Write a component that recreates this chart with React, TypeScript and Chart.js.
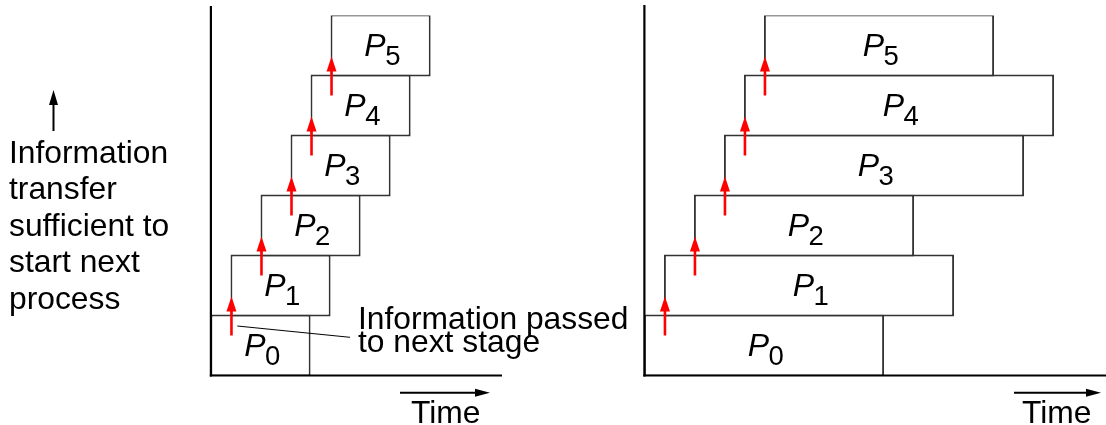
import React, { useEffect, useRef } from 'react';
import { Chart, registerables } from 'chart.js';

Chart.register(...registerables);

// ---- data ----
const processLabels = ['P0', 'P1', 'P2', 'P3', 'P4', 'P5'];
const startTimes = [0, 2, 5, 8, 10, 12];
const leftEndTimes = [10, 12, 15, 18, 20, 22];
const rightEndTimes = [24, 31, 27, 38, 41, 35];
const leftTimeMax = 29.13;
const rightTimeMax = 46.2;
const leftNote = ['Information', 'transfer', 'sufficient to', 'start next', 'process'];
const passedNote = ['Information passed', 'to next stage'];
const timeLabel = 'Time';

const FONT = "'Liberation Sans', Arial, Helvetica, sans-serif";
const TEXT_SIZE = 31.8;
const BOX_BORDER = 1.9;

function drawArrow(
  ctx: CanvasRenderingContext2D,
  x1: number, y1: number, x2: number, y2: number,
  color: string, width: number, headLen: number, headHalf: number
) {
  const ang = Math.atan2(y2 - y1, x2 - x1);
  const bx = x2 - headLen * Math.cos(ang);
  const by = y2 - headLen * Math.sin(ang);
  ctx.save();
  ctx.strokeStyle = color;
  ctx.fillStyle = color;
  ctx.lineWidth = width;
  ctx.lineCap = 'butt';
  ctx.beginPath();
  ctx.moveTo(x1, y1);
  ctx.lineTo(bx + Math.cos(ang), by + Math.sin(ang));
  ctx.stroke();
  ctx.beginPath();
  ctx.moveTo(x2, y2);
  ctx.lineTo(bx + headHalf * Math.sin(ang), by - headHalf * Math.cos(ang));
  ctx.lineTo(bx - headHalf * Math.sin(ang), by + headHalf * Math.cos(ang));
  ctx.closePath();
  ctx.fill();
  ctx.restore();
}

interface PanelOpts {
  axisTopExtra: number;
  timeArrow: [number, number, number];
  timeText: [number, number];
  annotate?: (ctx: CanvasRenderingContext2D) => void;
}

function makePanelPlugin(o: PanelOpts) {
  return {
    id: 'panelDecor',
    afterDatasetsDraw(chart: any) {
      const { ctx, chartArea: a, scales } = chart;
      const x = scales.x;
      const y = scales.y;
      // axes
      ctx.save();
      ctx.strokeStyle = '#000';
      ctx.lineWidth = 2.2;
      const x0 = x.getPixelForValue(0) + 0.4;
      ctx.beginPath();
      ctx.moveTo(x0, a.top - o.axisTopExtra);
      ctx.lineTo(x0, a.bottom + 1.1);
      ctx.stroke();
      ctx.beginPath();
      ctx.moveTo(x0 - 1.1, a.bottom);
      ctx.lineTo(a.right, a.bottom);
      ctx.stroke();
      ctx.restore();

      // labels inside boxes
      const meta = chart.getDatasetMeta(0);
      meta.data.forEach((el: any, i: number) => {
        const lab = processLabels[i];
        const main = lab.slice(0, 1);
        const sub = lab.slice(1);
        const cx = (el.x + el.base) / 2 + 2;
        const cy = el.y;
        ctx.save();
        ctx.fillStyle = '#000';
        ctx.textBaseline = 'alphabetic';
        ctx.textAlign = 'left';
        ctx.font = `italic 32px ${FONT}`;
        const wP = ctx.measureText(main).width;
        ctx.font = `27.5px ${FONT}`;
        const wD = ctx.measureText(sub).width;
        const sx = cx - (wP + wD) / 2;
        ctx.font = `italic 32px ${FONT}`;
        ctx.fillText(main, sx, cy + 10.5);
        ctx.font = `27.5px ${FONT}`;
        ctx.fillText(sub, sx + wP - 0.5, cy + 19);
        ctx.restore();
      });

      // red transfer arrows
      for (let k = 1; k < processLabels.length; k++) {
        const px = x.getPixelForValue(startTimes[k]) + BOX_BORDER / 2;
        const yPrev = y.getPixelForValue(k - 1);
        const yCur = y.getPixelForValue(k);
        const rowH = Math.abs(yPrev - yCur);
        const boundary = (yPrev + yCur) / 2;
        drawArrow(ctx, px, boundary + rowH / 3, px, boundary - rowH * 0.315, '#ff0000', 2.6, 15, 5);
      }
    },
    afterDraw(chart: any) {
      const { ctx } = chart;
      const [ax1, ax2, ay] = o.timeArrow;
      drawArrow(ctx, ax1, ay, ax2, ay, '#000', 2, 15, 4);
      ctx.save();
      ctx.fillStyle = '#000';
      ctx.font = `${TEXT_SIZE}px ${FONT}`;
      ctx.textAlign = 'left';
      ctx.textBaseline = 'alphabetic';
      ctx.fillText(timeLabel, o.timeText[0], o.timeText[1]);
      ctx.restore();
      if (o.annotate) o.annotate(ctx);
    },
  };
}

function makeConfig(ends: number[], xMax: number, padding: any, plugin: any): any {
  return {
    type: 'bar',
    data: {
      labels: processLabels,
      datasets: [
        {
          label: 'processes',
          data: startTimes.map((s, i) => [s, ends[i]]),
          backgroundColor: '#ffffff',
          borderColor: '#333333',
          borderWidth: BOX_BORDER,
          borderSkipped: false,
          barPercentage: 1 + BOX_BORDER / 60,
          categoryPercentage: 1,
        },
      ],
    },
    options: {
      indexAxis: 'y',
      animation: false,
      responsive: false,
      devicePixelRatio: 1,
      events: [],
      layout: { padding },
      plugins: { legend: { display: false }, tooltip: { enabled: false }, title: { display: false } },
      scales: {
        x: { type: 'linear', display: false, min: 0, max: xMax },
        y: { type: 'category', display: false, reverse: true },
      },
    },
    plugins: [plugin],
  };
}

export default function App() {
  const leftRef = useRef<HTMLCanvasElement>(null);
  const rightRef = useRef<HTMLCanvasElement>(null);

  useEffect(() => {
    if (!leftRef.current || !rightRef.current) return;
    const leftPlugin = makePanelPlugin({
      axisTopExtra: 9.5,
      timeArrow: [400, 490, 392.7],
      timeText: [411, 422.5],
      annotate: (ctx) => {
        // up arrow + note on the left
        drawArrow(ctx, 53.5, 131, 53.5, 90, '#000', 2, 15, 4.5);
        ctx.save();
        ctx.fillStyle = '#000';
        ctx.font = `${TEXT_SIZE}px ${FONT}`;
        ctx.textAlign = 'left';
        ctx.textBaseline = 'alphabetic';
        leftNote.forEach((line, i) => ctx.fillText(line, 9, 162.5 + 36.5 * i));
        passedNote.forEach((line, i) => ctx.fillText(line, 358, 329 + 23 * i));
        // leader line
        ctx.strokeStyle = '#000';
        ctx.lineWidth = 1;
        ctx.beginPath();
        ctx.moveTo(237.3, 326);
        ctx.lineTo(350, 337.3);
        ctx.stroke();
        ctx.restore();
      },
    });
    const rightPlugin = makePanelPlugin({
      axisTopExtra: 10.5,
      timeArrow: [1014 - 560, 1101 - 560, 392.7],
      timeText: [1022 - 560, 422.5],
    });
    const left = new Chart(
      leftRef.current,
      makeConfig(leftEndTimes, leftTimeMax, { left: 210.5, right: 138, top: 15.5, bottom: 49.5 }, leftPlugin)
    );
    const right = new Chart(
      rightRef.current,
      makeConfig(rightEndTimes, rightTimeMax, { left: 84, right: 0, top: 15.5, bottom: 49.5 }, rightPlugin)
    );
    return () => {
      left.destroy();
      right.destroy();
    };
  }, []);

  return (
    <div style={{ position: 'absolute', left: 0, top: 0, width: 1106, height: 425, overflow: 'hidden', background: '#fff' }}>
      <canvas
        ref={leftRef}
        width={640}
        height={425}
        style={{ position: 'absolute', left: 0, top: 0, width: 640, height: 425 }}
      />
      <canvas
        ref={rightRef}
        width={546}
        height={425}
        style={{ position: 'absolute', left: 560, top: 0, width: 546, height: 425 }}
      />
    </div>
  );
}
